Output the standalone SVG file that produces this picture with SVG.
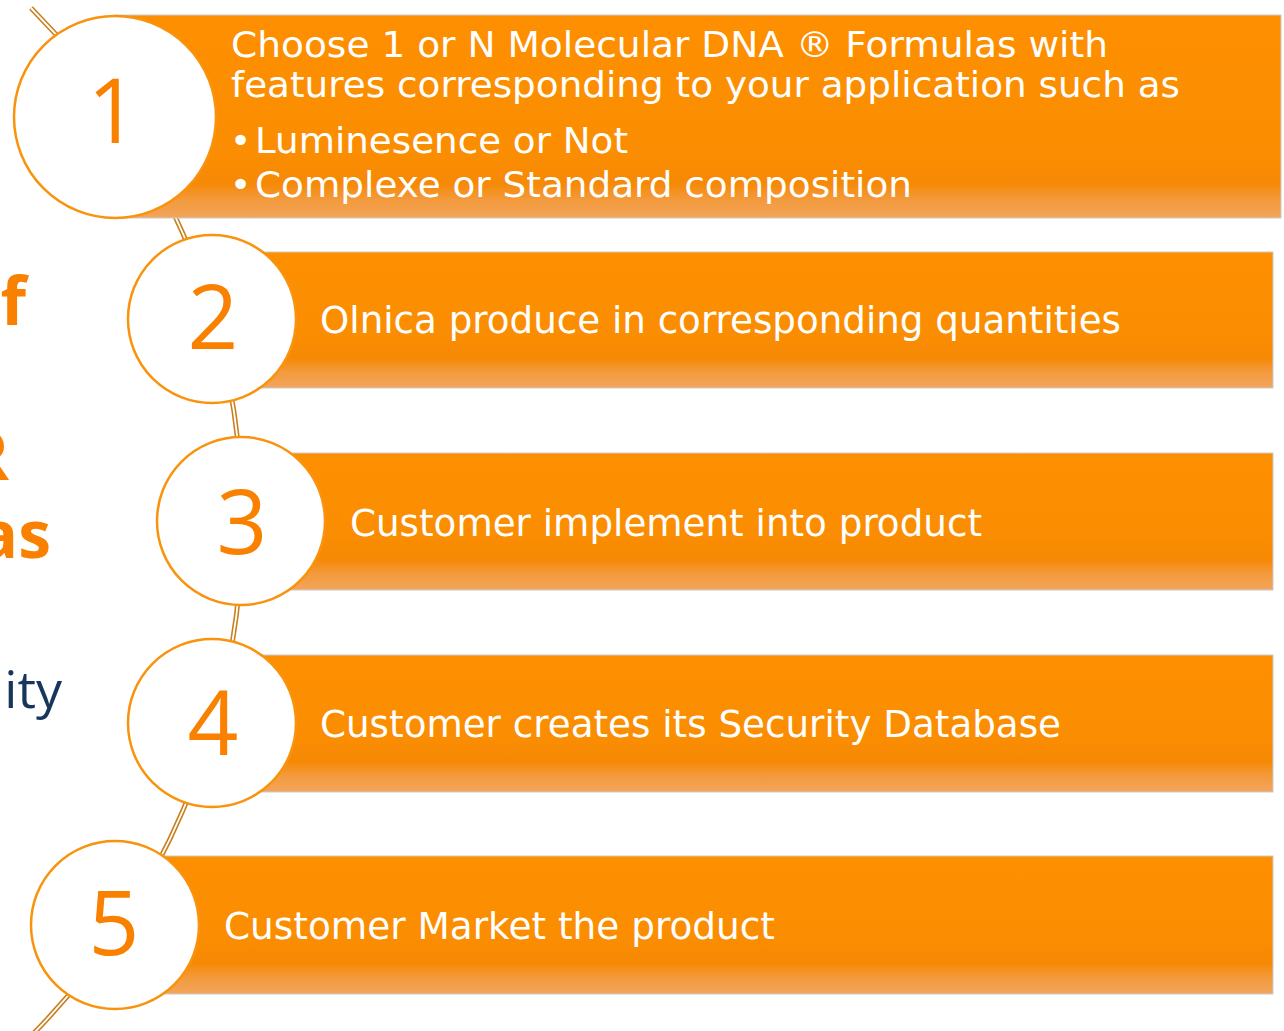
<svg xmlns="http://www.w3.org/2000/svg" width="1284" height="1031" viewBox="0 0 1284 1031">
<defs>
<linearGradient id="barg" x1="0" y1="0" x2="0" y2="1">
<stop offset="0" stop-color="#fd8f00"/>
<stop offset="0.6" stop-color="#fb8d02"/>
<stop offset="0.78" stop-color="#f68905"/>
<stop offset="0.88" stop-color="#f39a3c"/>
<stop offset="1" stop-color="#f2a55c"/>
</linearGradient>
<linearGradient id="barg1" x1="0" y1="0" x2="0" y2="1">
<stop offset="0" stop-color="#fd8f00"/>
<stop offset="0.7" stop-color="#fb8d02"/>
<stop offset="0.83" stop-color="#f68905"/>
<stop offset="0.91" stop-color="#f39a3c"/>
<stop offset="1" stop-color="#f2a55c"/>
</linearGradient>
<style>
.bar{fill:url(#barg);stroke:#cbcbcb;stroke-width:1}
.circ{fill:#ffffff;stroke:#f9930d;stroke-width:2.5}
.num{font-family:"Open Sans","DejaVu Sans",sans-serif;font-size:89px;fill:#fa8000;text-anchor:middle}
.lbl{font-family:"DejaVu Sans","Liberation Sans",sans-serif;fill:#ffffff}
.side{font-family:"Open Sans","Liberation Sans",sans-serif;font-weight:700;font-size:66px;fill:#fa8000;text-anchor:end}
.arcO{fill:none;stroke:#c8801e;stroke-width:5}
.arcI{fill:none;stroke:#ffffff;stroke-width:1.8}
</style>
</defs>
<rect width="1284" height="1031" fill="#ffffff"/>
<g id="side-text">
<text class="side" x="26" y="325">f</text>
<text class="side" x="9" y="480">R</text>
<text class="side" x="51" y="558">as</text>
<text x="62" y="708" font-family="Open Sans, Liberation Sans, sans-serif" font-size="52" fill="#17365c" text-anchor="end">ity</text>
</g>
<g id="connectors">
<path class="arcO" d="M 31 8 A 731 731 0 0 1 31 1036"/>
<path class="arcI" d="M 31 8 A 731 731 0 0 1 31 1036"/>
</g>
<g id="step1">
<rect x="115" y="15" width="1166" height="203" fill="url(#barg1)" stroke="#cbcbcb" stroke-width="1"/>
<circle class="circ" cx="115" cy="117" r="101"/>
<text class="num" x="113" y="143">1</text>
<text class="lbl" font-size="35" x="231" y="57" textLength="877" lengthAdjust="spacingAndGlyphs">Choose 1 or N Molecular DNA ® Formulas with</text>
<text class="lbl" font-size="35" x="231" y="97" textLength="949" lengthAdjust="spacingAndGlyphs">features corresponding to your application such as</text>
<text class="lbl" font-size="36" x="230" y="153">•</text>
<text class="lbl" font-size="36" x="255" y="153" textLength="373" lengthAdjust="spacingAndGlyphs">Luminesence or Not</text>
<text class="lbl" font-size="36" x="230" y="197">•</text>
<text class="lbl" font-size="36" x="255" y="197" textLength="657" lengthAdjust="spacingAndGlyphs">Complexe or Standard composition</text>
</g>
<g id="step2">
<rect class="bar" x="212" y="252" width="1061" height="136"/>
<circle class="circ" cx="212" cy="319" r="84"/>
<text class="num" x="213" y="349">2</text>
<text class="lbl" font-size="38" x="320" y="333" textLength="801" lengthAdjust="spacingAndGlyphs">Olnica produce in corresponding quantities</text>
</g>
<g id="step3">
<rect class="bar" x="241" y="453" width="1032" height="137"/>
<circle class="circ" cx="241" cy="521" r="84"/>
<text class="num" x="242" y="554">3</text>
<text class="lbl" font-size="38" x="350" y="536" textLength="632" lengthAdjust="spacingAndGlyphs">Customer implement into product</text>
</g>
<g id="step4">
<rect class="bar" x="212" y="655" width="1061" height="137"/>
<circle class="circ" cx="212" cy="723" r="84"/>
<text class="num" x="213" y="755">4</text>
<text class="lbl" font-size="38" x="320" y="737" textLength="741" lengthAdjust="spacingAndGlyphs">Customer creates its Security Database</text>
</g>
<g id="step5">
<rect class="bar" x="115" y="856" width="1158" height="138"/>
<circle class="circ" cx="115" cy="925" r="84"/>
<text class="num" x="114" y="955">5</text>
<text class="lbl" font-size="38" x="224" y="939" textLength="551" lengthAdjust="spacingAndGlyphs">Customer Market the product</text>
</g>
</svg>
